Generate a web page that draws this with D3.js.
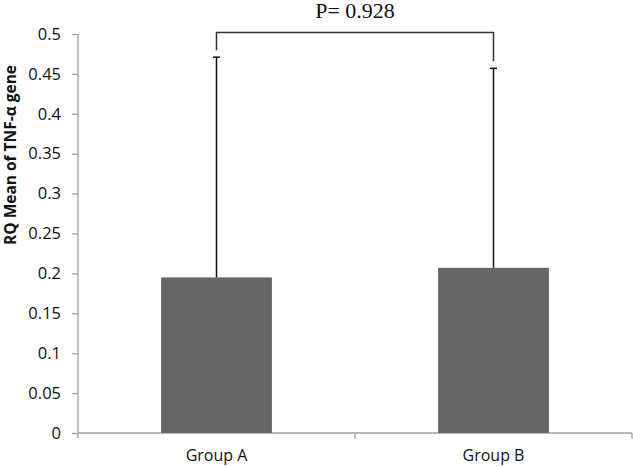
<!DOCTYPE html>
<html>
<head>
<meta charset="utf-8">
<script src="https://cdn.jsdelivr.net/npm/d3@7"></script>
<style>
  body { margin: 0; background: #fff; }
  svg { display: block; }
</style>
</head>
<body>
<svg id="chart" width="633" height="467"></svg>
<script>
var groups = [ 'Group A', 'Group B' ];
var means = [ 0.195, 0.207 ];
var errTops = [ 0.471, 0.457 ];
var yTicks = [ 0, 0.05, 0.1, 0.15, 0.2, 0.25, 0.3, 0.35, 0.4, 0.45, 0.5 ];
var pLabel = 'P= 0.928';
var bracketLevel = 0.502;

var svg = d3.select( '#chart' ),
  margin = { top: 34, right: 1, bottom: 34, left: 78 },
  width = +svg.attr( 'width' ),
  height = +svg.attr( 'height' );

var x = d3.scaleBand()
  .domain( groups )
  .range( [ margin.left, width - margin.right ] )
  .paddingInner( 0.6 )
  .paddingOuter( 0.3 );

var xOuter = d3.scaleBand()
  .domain( groups )
  .range( [ margin.left, width - margin.right ] );

var y = d3.scaleLinear()
  .domain( [ 0, 0.5 ] )
  .range( [ height - margin.bottom, margin.top ] );

var data = groups.map( ( g, i ) => ( { name: g, mean: means[ i ], top: errTops[ i ] } ) );

// y axis
var yAxis = svg.append( 'g' )
  .attr( 'transform', 'translate(' + margin.left + ',0)' )
  .call( d3.axisLeft( y ).tickValues( yTicks ).tickSize( 6 ).tickPadding( 11 ).tickFormat( d3.format( '' ) ) );
yAxis.select( '.domain' ).attr( 'd', 'M0,' + y( 0.5 ) + 'V' + ( y( 0 ) + 5 ) );
yAxis.selectAll( 'line, .domain' ).attr( 'stroke', '#a0a0a0' ).attr( 'stroke-width', 1.3 );
yAxis.selectAll( 'text' )
  .attr( 'fill', '#111' )
  .style( 'font-family', '"Open Sans", sans-serif' )
  .style( 'font-size', '16.5px' );

// x axis
var xAxis = svg.append( 'g' )
  .attr( 'transform', 'translate(0,' + y( 0 ) + ')' );
xAxis.append( 'line' )
  .attr( 'x1', margin.left ).attr( 'x2', width - margin.right )
  .attr( 'stroke', '#a0a0a0' ).attr( 'stroke-width', 1.3 );
xAxis.selectAll( '.sep' )
  .data( groups.slice( 1 ).concat( [ null ] ) )
  .enter().append( 'line' )
    .attr( 'x1', d => d ? xOuter( d ) : width - margin.right )
    .attr( 'x2', d => d ? xOuter( d ) : width - margin.right )
    .attr( 'y1', 0 ).attr( 'y2', 6 )
    .attr( 'stroke', '#a0a0a0' ).attr( 'stroke-width', 1.3 );
xAxis.selectAll( '.lbl' )
  .data( groups )
  .enter().append( 'text' )
    .attr( 'x', d => xOuter( d ) + xOuter.bandwidth() / 2 )
    .attr( 'y', 28 )
    .attr( 'text-anchor', 'middle' )
    .attr( 'fill', '#111' )
    .style( 'font-family', '"Open Sans", sans-serif' )
    .style( 'font-size', '16px' )
    .text( d => d );

// bars
svg.selectAll( '.bar' )
  .data( data )
  .enter().append( 'rect' )
    .attr( 'class', 'bar' )
    .attr( 'x', d => x( d.name ) )
    .attr( 'y', d => y( d.mean ) )
    .attr( 'width', x.bandwidth() )
    .attr( 'height', d => y( 0 ) - y( d.mean ) )
    .attr( 'fill', '#666666' );

// error bars
var cx = d => x( d.name ) + x.bandwidth() / 2;
svg.selectAll( '.err' )
  .data( data )
  .enter().append( 'line' )
    .attr( 'x1', cx ).attr( 'x2', cx )
    .attr( 'y1', d => y( d.mean ) ).attr( 'y2', d => y( d.top ) )
    .attr( 'stroke', '#111' ).attr( 'stroke-width', 1.5 );
svg.selectAll( '.cap' )
  .data( data )
  .enter().append( 'line' )
    .attr( 'x1', d => cx( d ) - 3.5 ).attr( 'x2', d => cx( d ) + 3.5 )
    .attr( 'y1', d => y( d.top ) ).attr( 'y2', d => y( d.top ) )
    .attr( 'stroke', '#111' ).attr( 'stroke-width', 1.5 );

// significance bracket
var yb = y( bracketLevel );
svg.append( 'path' )
  .attr( 'd', 'M' + cx( data[ 0 ] ) + ',' + ( y( data[ 0 ].top ) - 7 ) +
    'V' + yb + 'H' + cx( data[ 1 ] ) + 'V' + ( y( data[ 1 ].top ) - 7 ) )
  .attr( 'fill', 'none' )
  .attr( 'stroke', '#333' )
  .attr( 'stroke-width', 1.5 );

svg.append( 'text' )
  .attr( 'x', ( cx( data[ 0 ] ) + cx( data[ 1 ] ) ) / 2 )
  .attr( 'y', 17.5 )
  .attr( 'text-anchor', 'middle' )
  .attr( 'fill', '#111' )
  .style( 'font-family', '"Liberation Serif", "Times New Roman", serif' )
  .style( 'font-size', '22px' )
  .text( pLabel );

// y label
svg.append( 'text' )
  .attr( 'transform', 'translate(16,155) rotate(-90)' )
  .attr( 'text-anchor', 'middle' )
  .attr( 'fill', '#111' )
  .style( 'font-family', '"Open Sans", sans-serif' )
  .style( 'font-size', '15.5px' )
  .style( 'font-weight', 'bold' )
  .text( 'RQ Mean of TNF-α gene' );
</script>
</body>
</html>
